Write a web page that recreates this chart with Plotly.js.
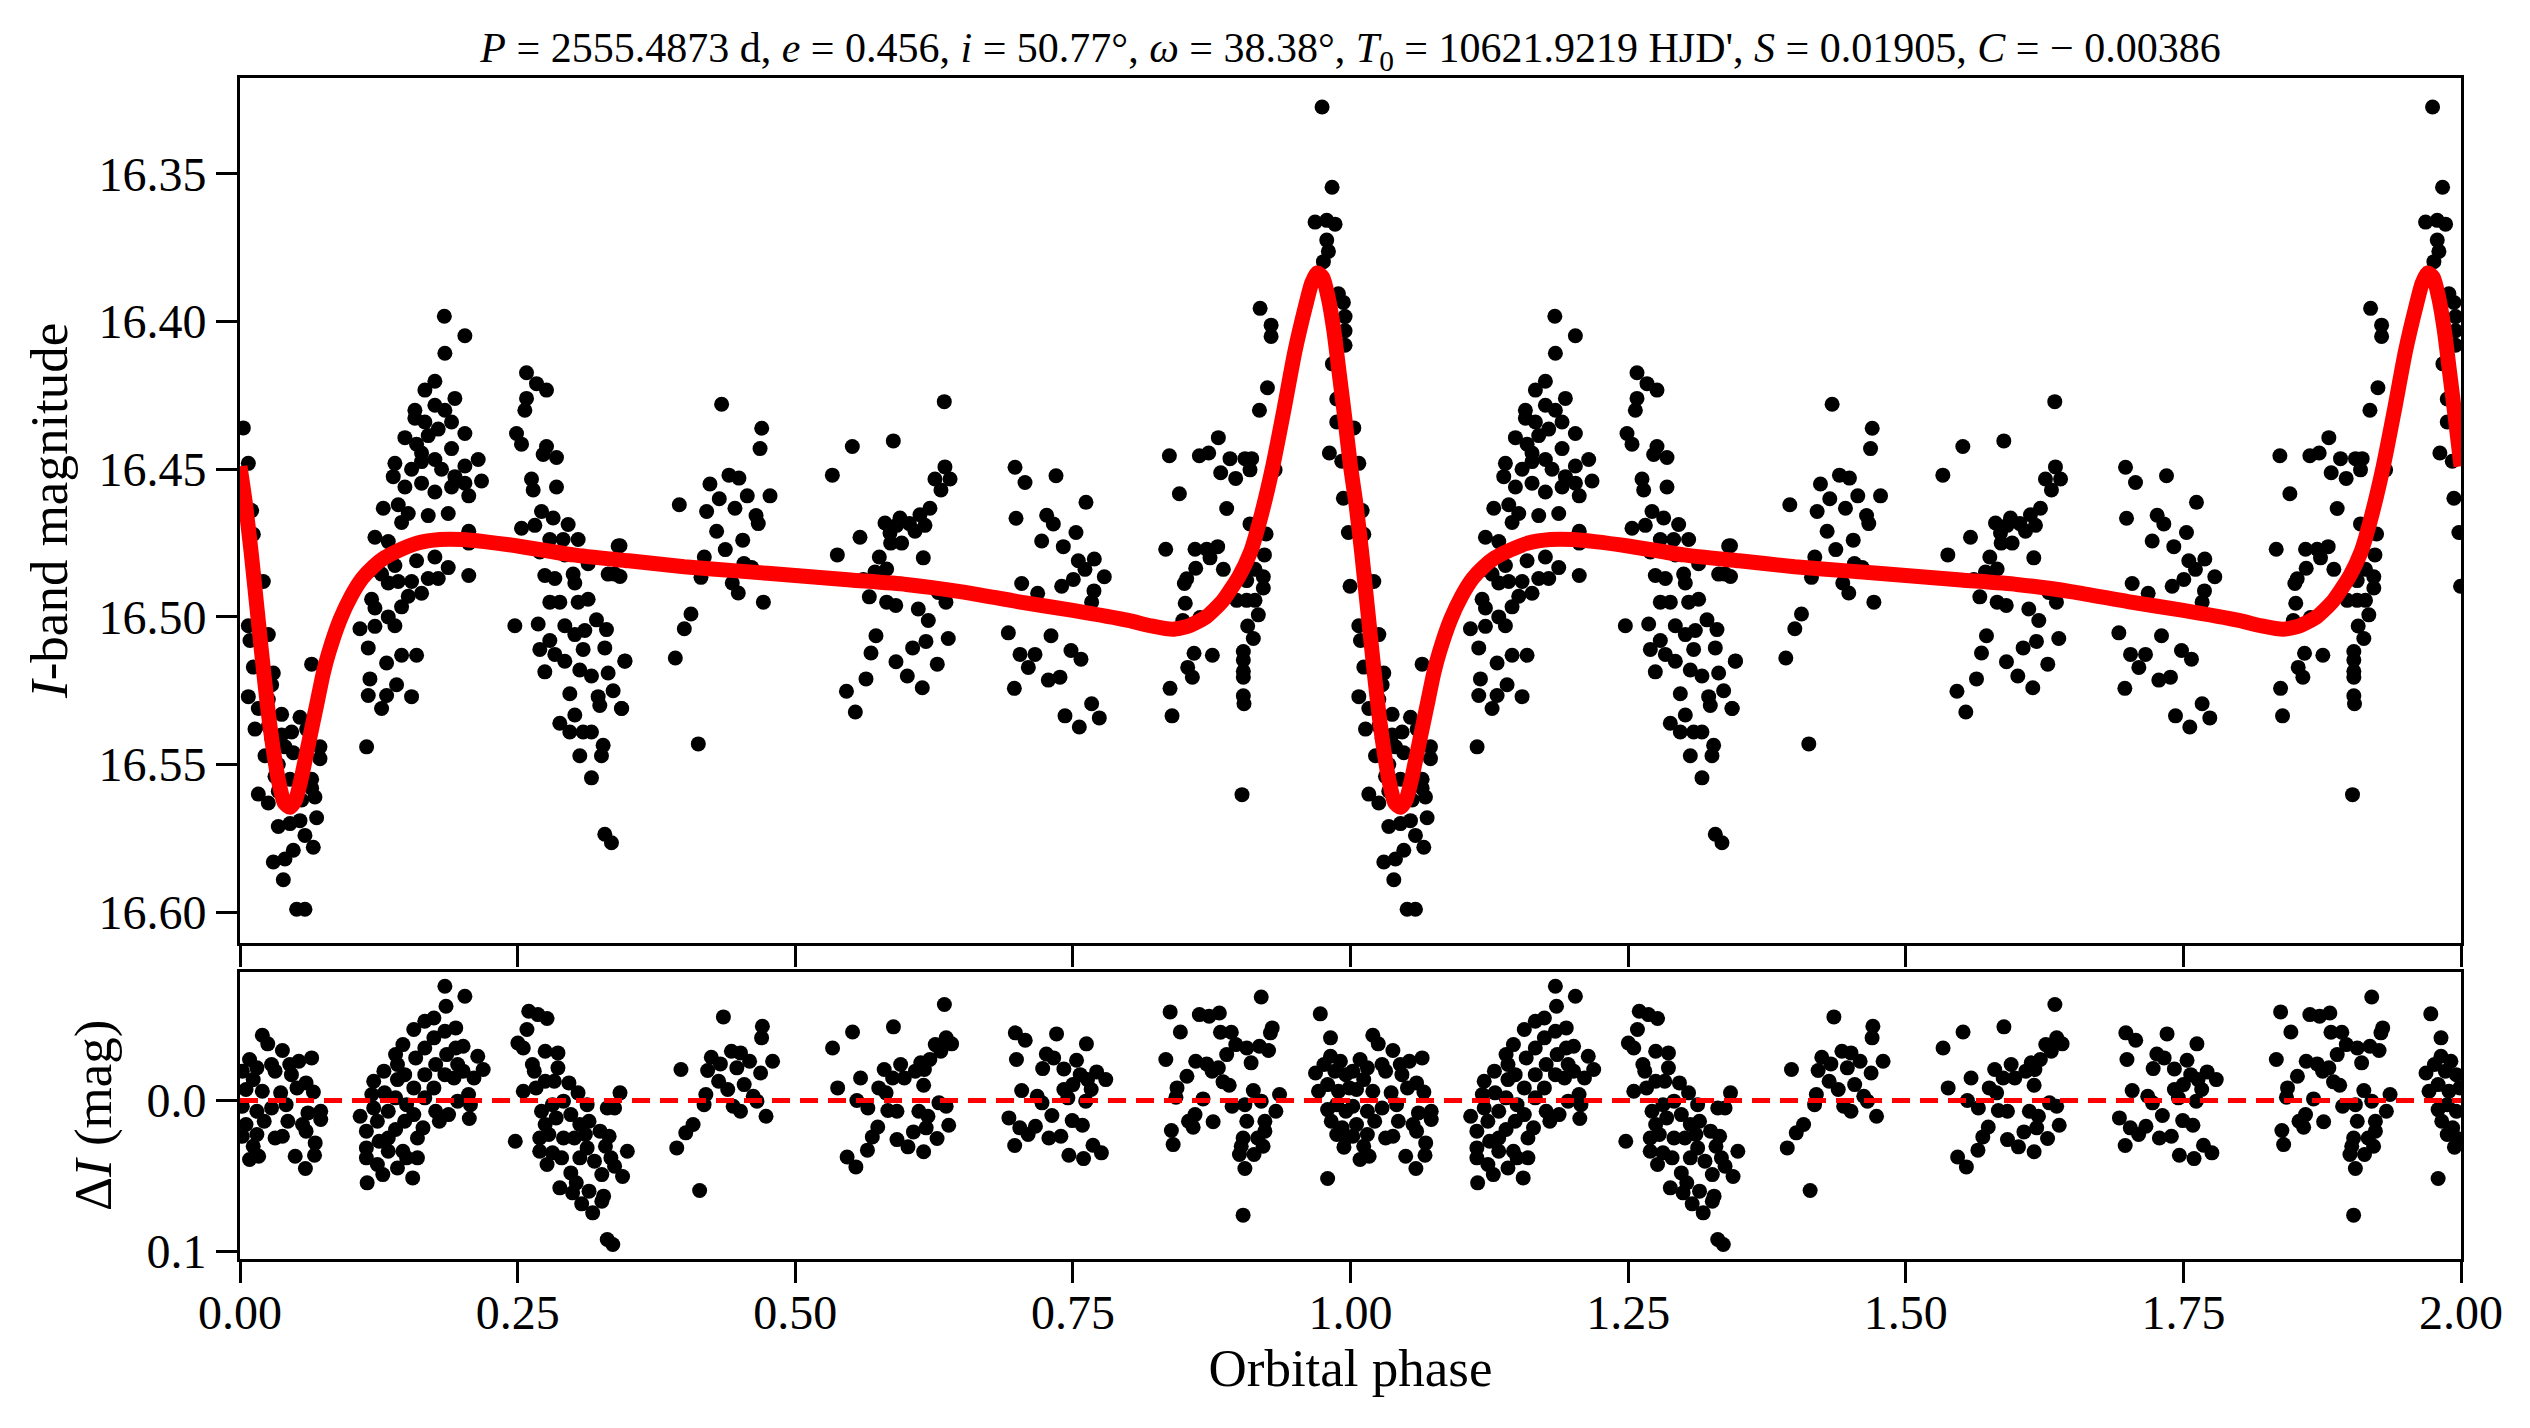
<!DOCTYPE html>
<html>
<head>
<meta charset="utf-8">
<script src="https://cdn.plot.ly/plotly-3.0.1.min.js"></script>
<style>html,body{margin:0;padding:0;background:#fff;}#chart{width:2530px;height:1428px;}</style>
</head>
<body>
<div id="chart"></div>
<script>
// ---------- observed points (one orbital cycle; shown twice) ----------
const obsPhase = [
0.003,0.0075,0.0105,0.012,0.0135,0.021,0.0075,0.009,0.0255,0.012,
0.030,0.0285,0.0075,0.0165,0.0255,0.0135,0.0375,0.0465,0.054,0.0405,
0.0225,0.0345,0.045,0.060,0.072,0.072,0.0645,0.0645,0.0165,0.0675,
0.069,0.0345,0.045,0.054,0.0585,0.066,0.048,0.030,0.0405,0.039,
0.051,0.0585,0.0255,0.0345,0.0315,0.0375,0.0255,0.0285,0.048,0.0555,0.0645,
0.114,0.108,0.1155,0.117,0.1155,0.1275,0.132,0.141,0.1545,0.132,
0.1455,0.159,0.1215,0.1215,0.1335,0.1395,0.1455,0.1515,0.1425,0.1545,
0.1635,0.1185,0.1335,0.1185,0.1275,0.1395,0.159,0.1695,0.1785,0.1875,
0.206,0.1755,0.1215,0.1335,0.129,0.1425,0.1515,0.1455,0.1695,0.1875,
0.206,0.206,0.1395,0.138,0.1485,0.1545,0.1635,0.1755,0.1815,0.1635,
0.1755,0.1905,0.2025,0.206,0.2025,0.2145,0.2175,0.1935,0.1485,0.159,
0.1695,0.1635,0.1785,0.1905,0.2025,0.1905,0.1575,0.1665,0.1755,0.1845,
0.1935,0.1665,0.1755,0.1845,0.2025,0.184,0.1575,
0.258,0.267,0.276,0.258,0.2565,0.249,0.2535,0.276,0.273,0.285,
0.2625,0.264,0.285,0.2715,0.282,0.2955,0.2535,0.2655,0.279,0.291,
0.3045,0.2925,0.270,0.2745,0.2835,0.300,0.3015,0.3135,0.3315,0.3375,
0.3405,0.279,0.288,0.3045,0.3135,0.2475,0.2685,0.2925,0.3015,0.3105,
0.321,0.330,0.279,0.270,0.2835,0.2925,0.309,0.3285,0.3465,0.2745,
0.306,0.3165,0.3315,0.297,0.3225,0.336,0.3435,0.324,0.288,0.3015,
0.297,0.309,0.3165,0.327,0.306,0.3255,0.3165,0.3285,0.3345,
0.4337,0.4698,0.4683,0.3956,0.4232,0.4202,0.4316,0.4403,0.4493,0.4457,
0.4568,0.4773,0.4647,0.4667,0.4292,0.4527,0.437,0.4181,0.4151,0.4538,
0.4608,0.4433,0.4487,0.4713,0.4061,0.4001,0.392,0.4127,0.3422,0.3422,
0.3467,0.3437,
0.5334,0.5514,0.5883,0.6342,0.6348,0.6258,0.6394,0.6312,0.6213,0.6123,
0.6168,0.6078,0.6027,0.5943,0.5913,0.5808,0.5853,0.5958,0.5859,0.5583,
0.5379,0.5757,0.6153,0.5823,0.5718,0.5613,0.5667,0.5823,0.5905,0.6108,
0.6198,0.6357,0.6288,0.5727,0.6378,0.6177,0.6057,0.5682,0.5907,0.6279,
0.5637,0.6009,0.6144,0.5461,0.5541,
0.6979,0.7069,0.7348,0.6988,0.7264,0.7324,0.7219,0.7414,0.7528,0.7618,
0.7549,0.7609,0.7693,0.7783,0.7039,0.7183,0.7399,0.7504,0.7690,0.7669,
0.6919,0.7024,0.7159,0.7099,0.7303,0.7483,0.7573,0.7279,0.7384,0.6973,
0.7429,0.7558,0.7669,0.7738,
0.8369,0.8459,0.8639,0.8723,0.8810,0.8831,0.8915,0.8966,0.9050,0.9110,
0.9095,0.8885,0.9186,0.9285,0.9285,0.9252,0.9180,0.9321,0.8336,0.8600,
0.8705,0.8804,0.8735,0.8606,0.8525,0.8504,0.8855,0.9095,0.9155,0.9240,
0.9225,0.9140,0.9215,0.9215,0.9065,0.9065,0.9140,0.8975,0.8512,0.8490,
0.8645,0.9170,0.9074,0.9125,0.9035,0.9035,0.9035,0.9035,0.9035,0.9041,
0.8591,0.8534,0.8576,0.8756,0.8375,0.8393,0.9023,
0.9744,0.9834,0.9681,0.9786,0.9861,0.9786,0.9801,0.9756,0.9891,0.9936,
0.9951,0.9951,0.9951,0.9837,0.9876,0.9876,0.9810,0.9921,0.9936,0.9981,0.9996
];
const obsMag = [
16.436,16.448,16.464,16.472,16.487,16.488,16.503,16.508,16.506,16.517,
16.519,16.523,16.527,16.531,16.528,16.538,16.533,16.539,16.534,16.544,
16.547,16.550,16.555,16.538,16.544,16.548,16.555,16.558,16.560,16.561,
16.568,16.571,16.570,16.569,16.574,16.578,16.579,16.583,16.582,16.589,
16.599,16.599,16.563,16.559,16.554,16.540,16.537,16.541,16.546,16.562,16.516,
16.544,16.504,16.5105,16.521,16.5266,16.531,16.5266,16.523,16.527,16.5156,
16.513,16.513,16.5032,16.497,16.500,16.503,16.4966,16.493,16.488,16.488,
16.492,16.494,16.4885,16.484,16.4855,16.4826,16.481,16.487,16.487,16.4833,
16.486,16.4797,16.473,16.4745,16.4632,16.462,16.465,16.468,16.4657,16.465,
16.471,16.475,16.448,16.4525,16.456,16.450,16.4474,16.4467,16.450,16.4547,
16.4577,16.456,16.4547,16.459,16.4489,16.4467,16.454,16.4525,16.4393,16.4415,
16.4386,16.4445,16.4364,16.434,16.4379,16.443,16.430,16.434,16.4283,16.430,
16.426,16.4232,16.4202,16.4107,16.4048,16.3982,16.4327,
16.4173,16.421,16.4232,16.426,16.430,16.4379,16.4415,16.4423,16.445,16.446,
16.4533,16.457,16.456,16.4643,16.4665,16.4687,16.470,16.469,16.4738,16.4738,
16.4738,16.479,16.478,16.486,16.487,16.4855,16.4885,16.482,16.4855,16.4855,
16.476,16.495,16.495,16.495,16.494,16.503,16.5024,16.503,16.506,16.5046,
16.501,16.5043,16.508,16.511,16.5127,16.515,16.511,16.5105,16.515,16.5186,
16.518,16.520,16.519,16.526,16.527,16.525,16.531,16.530,16.536,16.5332,
16.539,16.539,16.539,16.5435,16.547,16.547,16.5545,16.5736,16.5765,
16.428,16.4361,16.443,16.462,16.455,16.4643,16.460,16.452,16.453,16.4632,
16.459,16.459,16.4657,16.4684,16.471,16.474,16.4772,16.4797,16.4866,16.4819,
16.4833,16.4885,16.4919,16.495,16.499,16.504,16.5139,16.543,16.4759,16.4863,
16.5149,16.531,
16.452,16.4423,16.4404,16.4271,16.4492,16.4533,16.4533,16.457,16.4632,16.4654,
16.469,16.471,16.4684,16.4665,16.469,16.4682,16.4716,16.475,16.475,16.473,
16.479,16.4797,16.480,16.4838,16.4848,16.4873,16.4932,16.495,16.4961,16.4973,
16.5012,16.495,16.4917,16.5064,16.5073,16.5083,16.5105,16.5122,16.5152,16.516,
16.521,16.520,16.524,16.5252,16.5322,
16.4493,16.4545,16.4522,16.4666,16.4656,16.4685,16.4743,16.4762,16.4714,16.4612,
16.481,16.4839,16.4804,16.4864,16.4887,16.492,16.4896,16.4873,16.4912,16.495,
16.5054,16.5127,16.5127,16.5171,16.5064,16.5114,16.5143,16.5214,16.5204,16.5242,
16.5335,16.5373,16.5294,16.5342,
16.4454,16.4583,16.4454,16.4445,16.4393,16.4512,16.4464,16.4531,16.4464,16.4464,
16.4502,16.4633,16.3955,16.4012,16.405,16.4224,16.430,16.4502,16.4771,16.4771,
16.4771,16.4762,16.480,16.4835,16.4871,16.4887,16.4839,16.4685,16.4723,16.4719,
16.479,16.4839,16.4864,16.4902,16.4877,16.4944,16.4944,16.4944,16.4954,16.5012,
16.5002,16.4993,16.5031,16.5073,16.5117,16.5146,16.5184,16.5204,16.5267,16.5294,
16.5123,16.5171,16.5204,16.513,16.5242,16.5335,16.5602,
16.3273,16.3545,16.3663,16.3657,16.367,16.3724,16.3762,16.3797,16.3906,16.3935,
16.3983,16.4031,16.408,16.4143,16.4262,16.434,16.4445,16.4473,16.4598,16.4714,16.4896
];

// ---------- fitted orbital model curve ----------
const modelPhase = [
0.000,0.005,0.010,0.015,0.020,0.025,0.030,0.035,0.040,0.045,
0.050,0.055,0.060,0.065,0.070,0.075,0.080,0.090,0.100,0.110,
0.120,0.130,0.140,0.160,0.180,0.200,0.220,0.250,0.300,0.350,
0.400,0.450,0.500,0.550,0.600,0.650,0.700,0.750,0.800,0.820,
0.840,0.855,0.870,0.885,0.900,0.910,0.920,0.930,0.940,0.950,
0.960,0.965,0.970,0.975,0.980,0.985,0.990,0.995,1.000
];
const modelMag = [
16.449,16.462,16.478,16.496,16.514,16.531,16.545,16.556,16.563,16.5645,
16.562,16.555,16.546,16.537,16.528,16.519,16.512,16.501,16.493,16.487,
16.483,16.480,16.478,16.475,16.4738,16.4738,16.4745,16.476,16.479,16.481,
16.483,16.4845,16.486,16.4875,16.489,16.4915,16.4948,16.4978,16.5012,16.503,
16.5042,16.503,16.500,16.4945,16.486,16.478,16.465,16.449,16.430,16.410,
16.394,16.387,16.3835,16.385,16.392,16.403,16.418,16.433,16.449
];

// ---------- residuals (lower panel) ----------
const resPhase = [
0.0201,0.025,0.0382,0.0086,0.053,0.0645,0.0021,0.0119,0.0316,0.0463,
0.0595,0.0661,0.0054,0.0201,0.0366,0.0513,0.0021,0.0152,0.0284,0.0415,
0.0612,0.0727,0.0727,0.0054,0.0218,0.0431,0.0563,0.0021,0.0152,0.0316,
0.0382,0.0595,0.0677,0.0119,0.0086,0.0168,0.0497,0.0671,0.0589,0.0284,
0.0448,0.0152,
0.1082,0.1138,0.1138,0.1138,0.1145,0.1204,0.1187,0.1204,0.1237,0.1253,
0.1237,0.1286,0.1296,0.1302,0.1335,0.1335,0.1335,0.1401,0.1418,0.1418,
0.1401,0.1401,0.1418,0.1467,0.1483,0.150,0.1483,0.1467,0.150,0.1565,
0.1582,0.1565,0.1565,0.1555,0.1598,0.1598,0.1664,0.1664,0.1664,0.1664,
0.1648,0.1746,0.1746,0.1762,0.1746,0.1762,0.1795,0.1845,0.1855,0.1845,
0.1861,0.1845,0.1878,0.1943,0.1943,0.196,0.196,0.2025,0.2009,0.2009,
0.2058,0.2075,0.2065,0.2141,0.219,0.2107,0.1927,
0.2479,0.2551,0.2502,0.2551,0.2584,0.2600,0.2683,0.2765,0.2633,0.265,
0.2748,0.2863,0.2863,0.2666,0.2748,0.283,0.2962,0.3044,0.2715,0.2814,
0.2913,0.3126,0.2748,0.2847,0.2979,0.306,0.3143,0.2699,0.2781,0.2913,
0.3011,0.3110,0.3242,0.3324,0.2699,0.2814,0.2896,0.306,0.3126,0.3291,
0.334,0.3488,0.2765,0.3192,0.3258,0.3373,0.3445,0.2979,0.3028,0.2880,
0.2995,0.3143,0.3274,0.3077,0.3176,0.3258,0.3307,0.3357,0.3422,0.3373,0.3307,
0.3933,0.4014,0.4080,0.4139,0.3971,0.4179,0.4195,0.4211,0.4244,0.4310,
0.4326,0.4353,0.4392,0.4425,0.4474,0.4507,0.454,0.4441,0.4507,0.4589,
0.4622,0.4655,0.4688,0.4704,0.4697,0.4796,0.4737,
0.5336,0.5516,0.5382,0.5588,0.5555,0.5654,0.5884,0.6343,0.6359,0.6261,
0.6408,0.6310,0.6212,0.6130,0.6163,0.6081,0.5949,0.5982,0.5877,0.5801,
0.5752,0.5818,0.6156,0.6294,0.6359,0.5834,0.5916,0.6113,0.6195,0.6179,
0.6382,0.5743,0.5694,0.6064,0.5916,0.6015,0.6277,0.6156,0.5650,0.5467,0.5546,
0.6982,0.7071,0.7353,0.6992,0.7261,0.7327,0.7228,0.7419,0.7533,0.7622,
0.7566,0.7714,0.7796,0.7632,0.7500,0.7419,0.7039,0.7179,0.7222,0.7455,
0.7616,0.7665,0.6924,0.7311,0.7494,0.7586,0.7022,0.7163,0.7097,0.7284,
0.7392,0.6976,0.7681,0.7757,0.7464,0.7596,
0.8376,0.8468,0.8639,0.8727,0.8819,0.8829,0.8927,0.9196,0.9295,0.9279,
0.8337,0.8606,0.8705,0.8810,0.8754,0.8885,0.8967,0.9066,0.9180,0.9262,
0.9105,0.8527,0.8438,0.8428,0.8852,0.8908,0.8672,0.9125,0.9361,0.8934,
0.9049,0.9196,0.9328,0.8600,0.8541,0.8763,0.9066,0.9229,0.8387,0.8583,
0.9229,0.9033,0.9164,0.8403,0.9016,0.9213,0.9000,0.9131,0.9049,0.9033,
0.9728,0.9820,0.9820,0.9909,0.9685,0.9761,0.9859,0.9958,0.9712,0.9794,
0.9892,0.9990,0.9794,0.9876,0.9958,0.9827,0.9925,0.9876,0.9958,0.9941,0.9794
];
const resMag = [
-0.0433,-0.0376,-0.0332,-0.0272,-0.0261,-0.0283,-0.0195,-0.0139,-0.0195,-0.0172,
-0.0117,-0.0057,-0.0073,-0.0062,-0.0051,-0.0084,0.0038,0.0071,0.0049,0.0027,
0.0082,0.0071,0.0126,0.0159,0.0137,0.0137,0.0159,0.0237,0.0225,0.0248,
0.0237,0.0203,0.0281,0.0303,0.0391,0.0369,0.0369,0.0363,0.0451,-0.0239,
-0.0239,-0.0217,
0.0104,0.0203,0.0314,0.038,0.0546,-0.0128,-0.004,0.0049,0.0137,0.027,
0.0424,0.0491,-0.0195,-0.0051,0.0071,0.0248,0.0336,-0.0305,-0.0239,-0.0139,
-0.0018,0.0192,0.0447,-0.0371,-0.0172,0.0027,0.0137,0.0336,0.038,-0.0471,
-0.0283,-0.0084,0.0093,0.0513,0.038,0.0248,-0.0526,-0.0349,-0.0172,-0.0018,
0.0181,-0.0548,-0.0416,-0.0239,-0.0084,0.0071,0.0137,-0.0758,-0.0626,-0.046,
-0.0305,-0.0172,0.0093,-0.0482,-0.0349,-0.0239,0.0004,-0.0692,-0.036,-0.0195,
-0.004,0.0027,0.0119,-0.0294,-0.0206,-0.015,-0.015,
0.027,-0.0062,-0.0382,-0.0349,-0.0471,-0.0592,-0.057,-0.0544,-0.0239,-0.0195,
-0.0327,-0.0316,-0.0217,-0.0084,-0.0128,-0.0128,-0.0117,-0.0051,0.0071,0.0027,
0.0004,0.0027,0.0159,0.0115,0.0093,0.0159,0.0137,0.0248,0.0225,0.0248,
0.0248,0.0225,0.0203,0.0237,0.0336,0.0347,0.038,0.038,0.0314,0.0303,
0.038,0.0336,0.0424,0.0402,0.0491,0.0435,0.0504,0.048,0.0546,0.0579,
0.0612,0.0601,0.0634,0.0685,0.0745,0.0668,0.0922,0.0955,-0.0051,0.0049,0.0049,
0.0314,0.0214,0.0159,0.0597,-0.0206,0.0027,-0.004,-0.0199,-0.0287,-0.0128,
-0.0243,-0.0555,-0.0073,-0.0327,-0.0217,-0.0316,-0.0106,0.0038,0.0071,-0.0261,
-0.0029,0.0004,-0.0183,-0.0493,-0.0416,-0.0261,0.0104,
-0.0349,-0.0455,-0.0084,-0.015,0,0.0049,-0.0489,-0.0637,-0.0416,-0.0371,
-0.0376,-0.0327,-0.0272,-0.025,-0.0206,-0.0195,-0.0239,-0.015,-0.015,-0.0206,
-0.0084,-0.0051,-0.0102,0.0015,0.0038,0.0066,0.0071,0.0071,0.0104,0.0181,
0.0164,0.0175,0.0241,0.0208,0.0259,0.0307,0.0252,0.034,0.0329,0.0374,0.044,
-0.0449,-0.04,-0.0442,-0.0272,-0.0309,-0.0283,-0.0212,-0.021,-0.0267,-0.0376,
-0.0172,-0.019,-0.0139,-0.0139,-0.0106,-0.0073,-0.0066,-0.0029,0.0015,-0.0018,
0.0004,-0.0073,0.0115,0.0099,0.0133,0.0164,0.0181,0.017,0.0225,0.0248,
0.0237,0.0298,0.0296,0.0347,0.0363,0.0385,
-0.0588,-0.0455,-0.057,-0.0559,-0.0581,-0.0453,-0.0453,-0.0687,-0.0482,-0.0449,
-0.0272,-0.0261,-0.0243,-0.0217,-0.0195,-0.0305,-0.0371,-0.0349,-0.036,-0.0332,
-0.025,-0.0161,-0.0084,-0.0022,-0.0124,-0.0102,-0.0011,-0.0066,-0.004,0.0038,
0.0027,0.0004,0.0071,0.0093,0.0137,0.0141,0.0137,0.0137,0.0199,0.0177,
0.0203,0.0248,0.0248,0.0292,0.0303,0.0303,0.0358,0.0358,0.0451,0.076,
-0.0575,-0.0416,-0.0294,-0.0261,-0.0183,-0.0239,-0.0195,-0.0172,-0.0062,-0.0106,
-0.0062,-0.0084,0.006,0.0027,0.0071,0.0137,0.0181,0.0225,0.0248,0.0309,0.0517
];

// ---------- axis ticks ----------
const phaseTicks = [0, 0.25, 0.5, 0.75, 1.0, 1.25, 1.5, 1.75, 2.0];
const phaseTickText = ['0.00','0.25','0.50','0.75','1.00','1.25','1.50','1.75','2.00'];
const magTicks = [16.35, 16.40, 16.45, 16.50, 16.55, 16.60];
const magTickText = ['16.35','16.40','16.45','16.50','16.55','16.60'];
const resTicks = [0.0, 0.1];
const resTickText = ['0.0','0.1'];
const zeroLevel = 0;
const nCycles = 2;

// repeat one cycle over the plotted number of cycles
function repeatX(arr){ let o=[]; for(let k=0;k<nCycles;k++){ o=o.concat(arr.map(v=>v+k)); } return o; }
function repeatY(arr){ let o=[]; for(let k=0;k<nCycles;k++){ o=o.concat(arr); } return o; }
// model: avoid duplicating the joint point
function repeatModelX(arr){ let o=[]; for(let k=0;k<nCycles;k++){ o=o.concat((k>0?arr.slice(1):arr).map(v=>v+k)); } return o; }
function repeatModelY(arr){ let o=[]; for(let k=0;k<nCycles;k++){ o=o.concat(k>0?arr.slice(1):arr); } return o; }

const FONT = 'Liberation Serif';
const black = '#000000';

const traces = [
  {x: repeatX(obsPhase), y: repeatY(obsMag), xaxis:'x', yaxis:'y', type:'scatter', mode:'markers',
   marker:{color:black, size:15, line:{width:0}}, hoverinfo:'skip', showlegend:false},
  {x: repeatModelX(modelPhase), y: repeatModelY(modelMag), xaxis:'x', yaxis:'y', type:'scatter', mode:'lines',
   line:{color:'#ff0000', width:15, shape:'spline', smoothing:0.6}, hoverinfo:'skip', showlegend:false},
  {x: repeatX(resPhase), y: repeatY(resMag), xaxis:'x2', yaxis:'y2', type:'scatter', mode:'markers',
   marker:{color:black, size:15, line:{width:0}}, hoverinfo:'skip', showlegend:false},
  {x: [phaseTicks[0], phaseTicks[phaseTicks.length-1]], y: [zeroLevel, zeroLevel], xaxis:'x2', yaxis:'y2',
   type:'scatter', mode:'lines', line:{color:'#ff0000', width:5, dash:'18px,10px'}, hoverinfo:'skip', showlegend:false}
];

const axisCommon = {
  showline:true, mirror:true, linecolor:black, linewidth:3,
  ticks:'outside', ticklen:21, tickwidth:3, tickcolor:black,
  showgrid:false, zeroline:false,
  tickfont:{family:FONT, size:48, color:black}
};

const layout = {
  width:2530, height:1428,
  margin:{l:240, r:69, t:78, b:168.5, pad:0},
  paper_bgcolor:'#ffffff', plot_bgcolor:'#ffffff',
  font:{family:FONT, color:black},
  title:{
    text:"<i>P</i> = 2555.4873 d, <i>e</i> = 0.456, <i>i</i> = 50.77°, <i>ω</i> = 38.38°, <i>T</i><sub>0</sub> = 10621.9219 HJD', <i>S</i> = 0.01905, <i>C</i> = − 0.00386",
    font:{family:FONT, size:42, color:black},
    x:0.5, xref:'paper', xanchor:'center',
    y:1-47/1428, yref:'container', yanchor:'middle'
  },
  xaxis: Object.assign({}, axisCommon, {
    domain:[0,1], anchor:'y', range:[0,2], tickvals:phaseTicks, ticktext:phaseTickText,
    showticklabels:false
  }),
  yaxis: Object.assign({}, axisCommon, {
    domain:[0.2679,1], anchor:'x', range:[16.6103,16.3175], tickvals:magTicks, ticktext:magTickText,
    title:{text:'<i>I</i>-band magnitude', font:{family:FONT, size:53, color:black}, standoff:14}
  }),
  xaxis2: Object.assign({}, axisCommon, {
    domain:[0,1], anchor:'y2', range:[0,2], tickvals:phaseTicks, ticktext:phaseTickText,
    ticklabelstandoff:-12,
    title:{text:'Orbital phase', font:{family:FONT, size:53, color:black}, standoff:12}
  }),
  yaxis2: Object.assign({}, axisCommon, {
    domain:[0,0.2433], anchor:'x2', range:[0.1051,-0.0855], tickvals:resTicks, ticktext:resTickText,
    title:{text:'Δ<i>I</i> (mag)', font:{family:FONT, size:53, color:black}, standoff:18}
  })
};

Plotly.newPlot('chart', traces, layout, {staticPlot:true, displayModeBar:false});
</script>
</body>
</html>
